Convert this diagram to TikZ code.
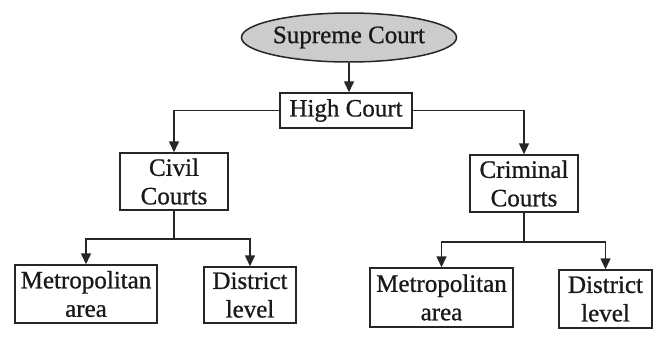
\documentclass[tikz,border=0pt]{standalone}
\usepackage{fontspec}
\setmainfont{Liberation Serif}[FakeBold=0.8]
\usetikzlibrary{arrows.meta,shapes.geometric}
\begin{document}
\begin{tikzpicture}[x=1pt,y=-1pt,
  box/.style={draw=black!85, line width=1.5pt, inner sep=0pt, align=center,
    font=\fontsize{25}{28.5}\selectfont, text=black!90},
  oval/.style={ellipse, draw=black!85, fill=gray!40, line width=1.5pt, inner sep=0pt,
    font=\fontsize{25}{28.5}\selectfont, text=black!90},
  conn/.style={draw=black!85, line width=1.5pt},
  arr/.style={conn, -{Triangle[width=10pt,length=11pt]}}]
\useasboundingbox (0,0) rectangle (653,338);
\fill[white] (0,0) rectangle (653,338);
\node[oval, minimum width=205pt, minimum height=49pt] (sc) at (349,37.5) {Supreme Court};
\node[box, minimum width=132pt, minimum height=35pt] (hc) at (346,110.5) {High Court};
\node[box, minimum width=108pt, minimum height=57pt] (cv) at (174,181.5) {Civil\\Courts};
\node[box, minimum width=108pt, minimum height=57pt] (cr) at (524,183.5) {Criminal\\Courts};
\node[box, minimum width=142pt, minimum height=58pt] (m1) at (86,294) {Metropolitan\\area};
\node[box, minimum width=92pt, minimum height=56pt] (d1) at (250,295) {District\\level};
\node[box, minimum width=143pt, minimum height=59pt] (m2) at (441.5,297.5) {Metropolitan\\area};
\node[box, minimum width=93pt, minimum height=58pt] (d2) at (605.5,299) {District\\level};
\draw[arr] (sc.south) -- (sc.south |- hc.north);
\draw[arr] (hc.west) -| (cv.north);
\draw[arr] (hc.east) -| (cr.north);
\coordinate (cj) at (cv.south |- 0,239);
\coordinate (rj) at (cr.south |- 0,242);
\draw[conn] (cv.south) -- (cj);
\draw[arr] (cj) -| (m1.north);
\draw[arr] (cj) -| (d1.north);
\draw[conn] (cr.south) -- (rj);
\draw[arr] (rj) -| (m2.north);
\draw[arr] (rj) -| (d2.north);
\end{tikzpicture}
\end{document}
